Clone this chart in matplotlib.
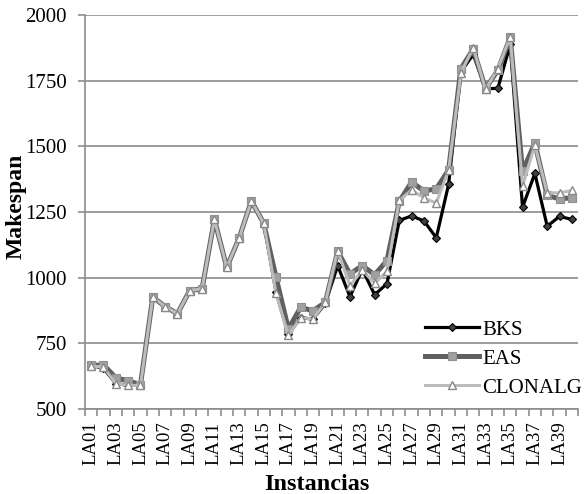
import matplotlib
matplotlib.use("Agg")
import matplotlib.pyplot as plt
import numpy as np

instances = [f"LA{i:02d}" for i in range(1, 41)]
bks = [666, 655, 597, 590, 593, 926, 890, 863, 951, 958,
       1222, 1039, 1150, 1292, 1207, 945, 784, 848, 842, 902,
       1046, 927, 1032, 935, 977, 1218, 1235, 1216, 1152, 1355,
       1784, 1850, 1719, 1721, 1888, 1268, 1397, 1196, 1233, 1222]
eas = [666, 668, 619, 607, 593, 926, 890, 863, 951, 958,
       1222, 1039, 1150, 1292, 1207, 1001, 805, 887, 874, 906,
       1100, 1014, 1046, 1011, 1065, 1290, 1364, 1330, 1338, 1410,
       1796, 1870, 1720, 1790, 1915, 1405, 1512, 1313, 1300, 1304]
clonalg = [663, 660, 596, 590, 590, 926, 890, 863, 951, 958,
           1222, 1039, 1150, 1292, 1207, 940, 780, 848, 842, 906,
           1103, 969, 1029, 978, 1024, 1294, 1334, 1303, 1284, 1408,
           1780, 1875, 1717, 1796, 1917, 1349, 1505, 1323, 1323, 1332]

plt.rcParams['font.family'] = ['Liberation Serif', 'DejaVu Serif']

W, H = 584, 494
fig = plt.figure(figsize=(W/100, H/100), dpi=100)
L, R, T, B = 85, 578, 15, 409
ax = fig.add_axes([L/W, 1 - B/H, (R-L)/W, (B-T)/H])

x = np.arange(len(instances))
ax.plot(x, bks, color='black', lw=2.3, marker='D', ms=4.5,
        mfc='#404040', mec='black', mew=0.8, label='BKS', zorder=3)
ax.plot(x, eas, color='#606060', lw=3.6, marker='s', ms=6,
        mfc='#a0a0a0', mec='#909090', mew=0.8, label='EAS', zorder=4)
ax.plot(x, clonalg, color='#bcbcbc', lw=2.2, marker='^', ms=6,
        mfc='white', mec='#888888', mew=1.0, label='CLONALG', zorder=5)

ax.set_xlim(-0.5, len(instances) - 0.5)
ax.set_ylim(500, 2000)
ax.set_yticks([500, 750, 1000, 1250, 1500, 1750, 2000])
ax.yaxis.grid(True, color='#8c8c8c', lw=1.2)
ax.set_axisbelow(True)

ax.set_xticks(x[::2])
ax.set_xticklabels(instances[::2], rotation=90, fontsize=13.5)
ax.set_xticks(np.arange(-0.5, len(instances), 1), minor=True)
ax.tick_params(axis='x', which='major', length=0, pad=9)
ax.tick_params(axis='x', which='minor', length=5, color='#8c8c8c', width=1.2)
ax.tick_params(axis='y', length=5, color='#8c8c8c', width=1.2,
               labelsize=15, pad=8)

for s in ['top', 'right']:
    ax.spines[s].set_visible(False)
for s in ['left', 'bottom']:
    ax.spines[s].set_color('#8c8c8c')
    ax.spines[s].set_linewidth(1.2)

ax.set_ylabel('Makespan', fontsize=17, fontweight='bold')
ax.yaxis.set_label_coords((16 - L)/(R - L), (B - 206)/(B - T))
ax.yaxis.label.set_va('center')
ax.set_xlabel('Instancias', fontsize=17.5, fontweight='bold')
ax.xaxis.set_label_coords((317 - L)/(R - L), (B - 490)/(B - T))
ax.xaxis.label.set_va('baseline')

leg = ax.legend(loc='upper left', frameon=False, fontsize=15,
                handlelength=2.6, borderpad=0, borderaxespad=0,
                labelspacing=0.45, handletextpad=0.15,
                bbox_to_anchor=(425/W, 1 - 320/H),
                bbox_transform=fig.transFigure)

fig.savefig('out.png', dpi=100)
